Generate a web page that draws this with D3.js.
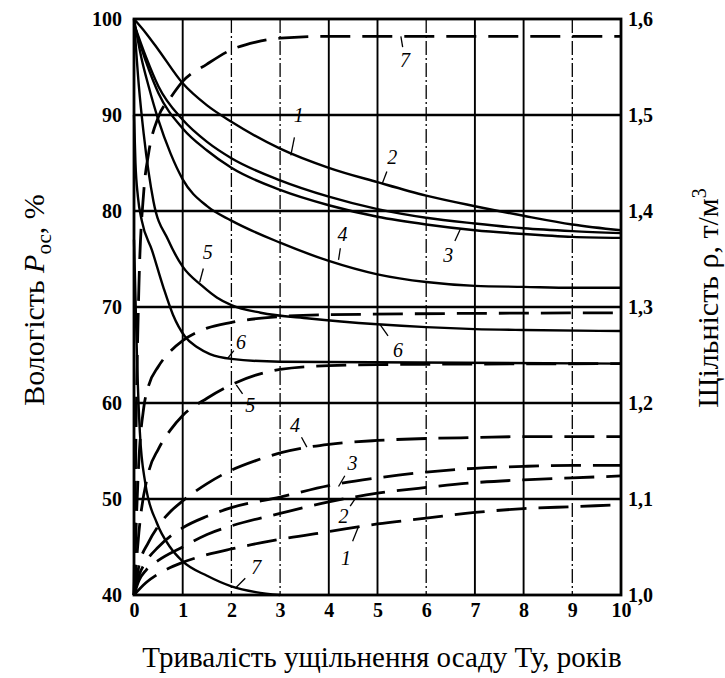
<!DOCTYPE html>
<html>
<head>
<meta charset="utf-8">
<script src="https://cdn.jsdelivr.net/npm/d3@7"></script>
<style>
  body { margin: 0; background: #fff; }
  svg { display: block; }
  text { font-family: "Liberation Serif", "Times New Roman", serif; fill: #000; }
</style>
</head>
<body>
<svg id="chart" width="725" height="678"></svg>
<script>
// x ticks (years) and axis tick labels
var yearTicks = [0, 1, 2, 3, 4, 5, 6, 7, 8, 9, 10];
var moistTicks = [40, 50, 60, 70, 80, 90, 100];
var densTicks = [1.0, 1.1, 1.2, 1.3, 1.4, 1.5, 1.6];
var dashedGridYears = [2, 3, 6, 9];

// solid curves: moisture P, % (t in years, value)
var moist1 = [[0, 100], [0.25, 98.5], [0.5, 96.8], [1, 93.3], [1.5, 91], [2, 89.3], [3, 86.5], [4, 84.5], [5, 83], [6, 81.6], [7, 80.5], [8, 79.5], [9, 78.6], [10, 78]];
var moist2 = [[0, 99.5], [0.25, 96], [0.5, 93], [1, 89.5], [1.5, 87.2], [2, 85.5], [3, 83.2], [4, 81.5], [5, 80.2], [6, 79.3], [7, 78.7], [8, 78.2], [9, 77.9], [10, 77.7]];
var moist3 = [[0, 99.5], [0.25, 95.5], [0.5, 92.3], [1, 88.6], [1.5, 86.3], [2, 84.5], [3, 82.2], [4, 80.6], [5, 79.4], [6, 78.6], [7, 78], [8, 77.6], [9, 77.3], [10, 77.2]];
var moist4 = [[0, 100], [0.15, 96], [0.3, 93], [0.5, 89.5], [0.75, 86], [1, 83.3], [1.5, 80.5], [2, 79], [3, 76.7], [4, 74.8], [5, 73.4], [6, 72.6], [7, 72.2], [8, 72.1], [9, 72], [10, 72]];
var moist5 = [[0, 100], [0.1, 93], [0.2, 88], [0.4, 81], [0.7, 77], [1, 74.2], [1.4, 72.2], [1.7, 71], [2, 70.2], [2.6, 69.4], [3.6, 68.8], [5, 68.2], [6, 67.9], [7, 67.7], [8, 67.6], [10, 67.5]];
var moist6 = [[0, 90], [0.03, 85], [0.08, 81.5], [0.16, 79], [0.37, 75.9], [0.6, 72.1], [0.8, 69.2], [1.05, 66.9], [1.3, 65.8], [1.56, 65.1], [2, 64.6], [3, 64.3], [10, 64.1]];
var moist7 = [[0, 77], [0.03, 71], [0.06, 65], [0.12, 57], [0.23, 51.7], [0.47, 47.5], [0.74, 45], [1, 43.5], [1.5, 42], [2, 40.9], [2.5, 40.3], [3, 40]];

// dashed curves: density, t/m3
var dens1 = [[0, 1.0], [0.25, 1.013], [0.5, 1.022], [1, 1.034], [1.5, 1.042], [2, 1.048], [3, 1.058], [4, 1.066], [5, 1.074], [6, 1.08], [7, 1.086], [8, 1.09], [9, 1.092], [10, 1.094]];
var dens2 = [[0, 1.0], [0.1, 1.015], [0.25, 1.026], [0.5, 1.036], [1, 1.05], [1.5, 1.063], [2, 1.072], [3, 1.085], [4, 1.097], [5, 1.106], [6, 1.112], [7, 1.117], [8, 1.12], [9, 1.122], [10, 1.124]];
var dens3 = [[0, 1.0], [0.1, 1.02], [0.25, 1.035], [0.5, 1.05], [1, 1.07], [1.5, 1.082], [2, 1.091], [3, 1.102], [4, 1.114], [5, 1.122], [6, 1.128], [7, 1.132], [8, 1.134], [9, 1.135], [10, 1.135]];
var dens4 = [[0, 1.0], [0.1, 1.03], [0.3, 1.055], [0.5, 1.072], [0.75, 1.087], [1, 1.098], [1.5, 1.116], [2, 1.13], [2.5, 1.14], [3, 1.148], [4, 1.157], [5, 1.161], [6, 1.163], [7, 1.164], [8, 1.165], [10, 1.165]];
var dens5 = [[0, 1.0], [0.1, 1.065], [0.3, 1.128], [0.5, 1.152], [0.75, 1.172], [1, 1.187], [1.5, 1.205], [2, 1.219], [2.5, 1.229], [3, 1.235], [4, 1.239], [5, 1.24], [10, 1.241]];
var dens6 = [[0, 1.0], [0.05, 1.08], [0.1, 1.14], [0.2, 1.195], [0.3, 1.218], [0.5, 1.238], [0.75, 1.254], [1, 1.265], [1.5, 1.278], [2, 1.284], [3, 1.29], [4, 1.292], [10, 1.294]];
var dens7 = [[0, 1.0], [0.05, 1.2], [0.1, 1.32], [0.2, 1.42], [0.3, 1.46], [0.5, 1.498], [0.75, 1.518], [1, 1.535], [1.5, 1.553], [2, 1.568], [2.5, 1.576], [3, 1.58], [4, 1.582], [10, 1.582]];

// curve labels: name, which axis, t, value where the pointer touches, label offset
var labelNames = ['7', '1', '2', '3', '4', '5', '6', '6', '5', '4', '3', '2', '1', '7'];
var labelSide = ['d', 'm', 'm', 'm', 'm', 'm', 'm', 'm', 'd', 'd', 'd', 'd', 'd', 'm'];
var labelAt = [[5.48, 1.582], [3.22, 85.8], [5.1, 82.9], [6.7, 78.1], [4.2, 74.9], [1.35, 72.6], [1.93, 64.7], [5.05, 68.2], [2.1, 1.219], [3.55, 1.154], [4.2, 1.113], [4.55, 1.101], [4.6, 1.07], [2.1, 40.8]];
var labelOff = [[4, 24], [8, -40], [10, -26], [-12, 26], [4, -26], [8, -30], [13, -16], [18, 26], [14, 20], [-12, -22], [14, -24], [-12, 18], [-12, 30], [20, -20]];

var svg = d3.select('#chart');
var padL = 134, padR = 621, padT = 19, padB = 595;
var x = d3.scaleLinear().domain([0, 10]).range([padL, padR]);
var yM = d3.scaleLinear().domain([40, 100]).range([padB, padT]);
var yD = d3.scaleLinear().domain([1.0, 1.6]).range([padB, padT]);

// grid
svg.append('g').selectAll('line').data(moistTicks.slice(1, -1)).enter().append('line')
    .attr('x1', padL).attr('x2', padR)
    .attr('y1', d => yM(d)).attr('y2', d => yM(d))
    .attr('stroke', '#000').attr('stroke-width', 2.4);
svg.append('g').selectAll('line').data(yearTicks.slice(1, -1)).enter().append('line')
    .attr('x1', d => x(d)).attr('x2', d => x(d))
    .attr('y1', padT).attr('y2', padB)
    .attr('stroke', '#000')
    .attr('stroke-width', d => dashedGridYears.indexOf(d) >= 0 ? 1.3 : 1.9)
    .attr('stroke-dasharray', d => dashedGridYears.indexOf(d) >= 0 ? '14,3,2,3' : null);

// curves
var lineM = d3.line().x(d => x(d[0])).y(d => yM(d[1])).curve(d3.curveMonotoneX);
var lineD = d3.line().x(d => x(d[0])).y(d => yD(d[1])).curve(d3.curveMonotoneX);
var solids = [moist1, moist2, moist3, moist4, moist5, moist6, moist7];
var dashes = [dens1, dens2, dens3, dens4, dens5, dens6, dens7];
svg.append('g').selectAll('path').data(solids).enter().append('path')
    .attr('d', lineM).attr('fill', 'none').attr('stroke', '#000').attr('stroke-width', 2.4);
svg.append('g').selectAll('path').data(dashes).enter().append('path')
    .attr('d', lineD).attr('fill', 'none').attr('stroke', '#000').attr('stroke-width', 2.8)
    .attr('stroke-dasharray', '30,12');

// frame
svg.append('rect').attr('x', padL).attr('y', padT).attr('width', padR - padL).attr('height', padB - padT)
    .attr('fill', 'none').attr('stroke', '#000').attr('stroke-width', 2.8);

// axes labels
var axL = svg.append('g').attr('transform', 'translate(' + padL + ',0)')
    .call(d3.axisLeft(yM).tickValues(moistTicks).tickSize(0).tickPadding(12));
var axR = svg.append('g').attr('transform', 'translate(' + padR + ',0)')
    .call(d3.axisRight(yD).tickValues(densTicks).tickSize(0).tickPadding(7).tickFormat(d => d3.format('.1f')(d).replace('.', ',')));
var axB = svg.append('g').attr('transform', 'translate(0,' + padB + ')')
    .call(d3.axisBottom(x).tickValues(yearTicks).tickSize(0).tickPadding(8));
[axL, axR, axB].forEach(a => {
    a.select('.domain').remove();
    a.selectAll('text').style('font-family', '"Liberation Serif", serif')
        .style('font-size', '20px').style('font-weight', 'bold');
});

// curve labels with pointer strokes
labelNames.forEach((n, i) => {
    var px = x(labelAt[i][0]);
    var py = labelSide[i] == 'm' ? yM(labelAt[i][1]) : yD(labelAt[i][1]);
    var lx = px + labelOff[i][0], ly = py + labelOff[i][1];
    svg.append('line').attr('x1', px).attr('y1', py)
        .attr('x2', px + labelOff[i][0] * 0.45).attr('y2', py + labelOff[i][1] * 0.45)
        .attr('stroke', '#000').attr('stroke-width', 1.3);
    svg.append('text').attr('x', lx).attr('y', ly).attr('text-anchor', 'middle')
        .attr('dominant-baseline', 'central')
        .style('font-size', '20px').style('font-style', 'italic').text(n);
});

// titles
svg.append('text').attr('x', 382).attr('y', 667).attr('text-anchor', 'middle')
    .style('font-size', '29px').text('Тривалість ущільнення осаду Ту, років');

var tl = svg.append('text').attr('transform', 'translate(44,300) rotate(-90)').attr('text-anchor', 'middle')
    .style('font-size', '30px');
tl.append('tspan').text('Вологість ');
tl.append('tspan').style('font-style', 'italic').text('P');
tl.append('tspan').attr('dy', 7).style('font-size', '21px').text('ос');
tl.append('tspan').attr('dy', -7).text(', %');

var tr = svg.append('text').attr('transform', 'translate(718,298) rotate(-90)').attr('text-anchor', 'middle')
    .style('font-size', '30px');
tr.append('tspan').text('Щільність ρ, т/м');
tr.append('tspan').attr('dy', -12).style('font-size', '20px').text('3');
</script>
</body>
</html>
